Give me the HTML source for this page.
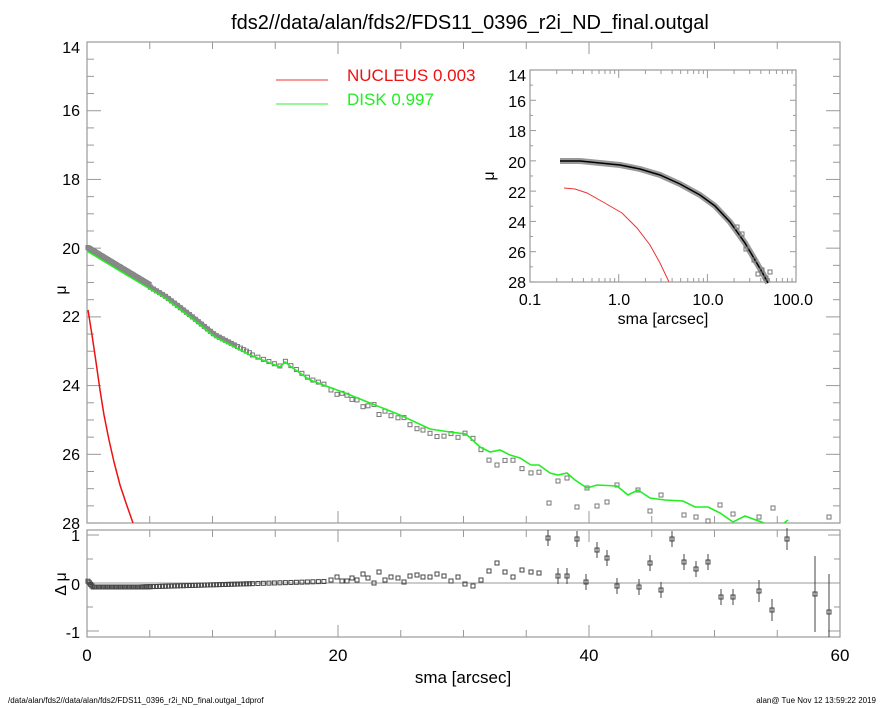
<!DOCTYPE html>
<html><head><meta charset="utf-8"><style>
html,body{margin:0;padding:0;background:#fff;}
svg{display:block;font-family:"Liberation Sans",sans-serif;}
</style></head><body>
<svg id="s" width="885" height="708" viewBox="0 0 885 708" xmlns="http://www.w3.org/2000/svg">
<rect width="885" height="708" fill="#fff"/>
<text x="470" y="29" font-size="20" text-anchor="middle">fds2//data/alan/fds2/FDS11_0396_r2i_ND_final.outgal</text>
<rect x="87" y="42" width="753" height="481" fill="none" stroke="#999" stroke-width="1.2"/>
<rect x="87" y="530" width="753" height="107" fill="none" stroke="#999" stroke-width="1.2"/>
<g id="ticks" stroke="#999" stroke-width="1"></g>
<g font-size="16" text-anchor="end">
<text x="80" y="53">14</text><text x="80" y="116">16</text><text x="80" y="185">18</text>
<text x="80" y="254">20</text><text x="80" y="322">22</text><text x="80" y="391">24</text>
<text x="80" y="460">26</text><text x="80" y="529">28</text>
<text x="80" y="541">1</text><text x="80" y="590">0</text><text x="80" y="638">-1</text>
</g>
<text x="66" y="290" font-size="16" transform="rotate(-90 66 290)" text-anchor="middle">μ</text>
<text x="66" y="584" font-size="16" transform="rotate(-90 66 584)" text-anchor="middle">Δ μ</text>
<g font-size="17" text-anchor="middle">
<text x="87" y="661">0</text><text x="338" y="661">20</text><text x="589" y="661">40</text><text x="840" y="661">60</text>
</g>
<text x="463" y="683" font-size="17" text-anchor="middle">sma [arcsec]</text>
<text x="8" y="703" font-size="8">/data/alan/fds2//data/alan/fds2/FDS11_0396_r2i_ND_final.outgal_1dprof</text>
<text x="876" y="703" font-size="8" text-anchor="end">alan@  Tue Nov 12 13:59:22 2019</text>
<line x1="276" y1="80" x2="328" y2="80" stroke="#e33" stroke-width="1"/>
<text x="347" y="81" font-size="17" fill="#e11">NUCLEUS  0.003</text>
<line x1="276" y1="104" x2="328" y2="104" stroke="#3e3" stroke-width="1"/>
<text x="347" y="105" font-size="17" fill="#2e2">DISK  0.997</text>
<g id="data"></g>
<line x1="87" y1="583" x2="840" y2="583" stroke="#999" stroke-width="1"/>
<g id="res"></g>
<polyline fill="none" stroke="#e11" stroke-width="1.5" points="88,310 92,335 96,362 100,390 104,415 109,440 114,462 120,485 126,503 133,523"/>
<rect x="530" y="70" width="266" height="212" fill="#fff" stroke="#999" stroke-width="1.2"/>
<g id="iticks" stroke="#999" stroke-width="1"></g>
<g font-size="16" text-anchor="end">
<text x="526" y="81">14</text><text x="526" y="107">16</text><text x="526" y="137">18</text>
<text x="526" y="168">20</text><text x="526" y="198">22</text><text x="526" y="228">24</text>
<text x="526" y="258">26</text><text x="526" y="288">28</text>
</g>
<text x="494" y="176" font-size="16" transform="rotate(-90 494 176)" text-anchor="middle">μ</text>
<g font-size="16" text-anchor="middle">
<text x="530" y="305">0.1</text><text x="619" y="305">1.0</text><text x="708" y="305">10.0</text><text x="793" y="305">100.0</text>
</g>
<text x="663" y="324" font-size="16" text-anchor="middle">sma [arcsec]</text>
<polyline fill="none" stroke="#e33" stroke-width="1" points="564,188 575,189 587,193 603,202 622,213 637,228 650,245 660,263 669,282"/>
<polyline fill="none" stroke="#999" stroke-width="6" points="560,161 580,161 600,163 620,165 640,169 660,175 680,184 700,195 715,206 730,222 745,243 755,260 762,272 768,283"/>
<polyline fill="none" stroke="#000" stroke-width="1.5" points="560,161 580,161 600,163 620,165 640,169 660,175 680,184 700,195 715,206 730,222 745,243 755,260 762,272 768,283"/>
<g fill="none" stroke="#777" stroke-width="1">
<rect x="752" y="258" width="4" height="4"/><rect x="744" y="247" width="4" height="4"/><rect x="760" y="268" width="4" height="4"/><rect x="756" y="272" width="4" height="4"/><rect x="764" y="276" width="4" height="4"/><rect x="768" y="270" width="4" height="4"/><rect x="740" y="232" width="4" height="4"/><rect x="735" y="225" width="4" height="4"/>
</g>
</svg>
<script>
(function(){
var NS="http://www.w3.org/2000/svg";
function el(p,t,a){var e=document.createElementNS(NS,t);for(var k in a)e.setAttribute(k,a[k]);p.appendChild(e);return e;}
var T=document.getElementById('ticks');
for(var i=0;i<=12;i++){var x=87+i*62.75;var L=(i%4==0)?12:7;
 el(T,'line',{x1:x,y1:523,x2:x,y2:523-L});el(T,'line',{x1:x,y1:42,x2:x,y2:42+L});
 el(T,'line',{x1:x,y1:637,x2:x,y2:637-L});el(T,'line',{x1:x,y1:530,x2:x,y2:530+L});}
for(var m=14;m<=28;m+=0.5){var y=42+(m-14)*34.36;var L=(m%2==0)?14:7;
 el(T,'line',{x1:87,y1:y,x2:87+L,y2:y});el(T,'line',{x1:840,y1:y,x2:840-L,y2:y});}
for(var d=-1;d<=1;d+=0.5){var y=583-d*48;var L=(d%1==0)?12:6;
 el(T,'line',{x1:87,y1:y,x2:87+L,y2:y});el(T,'line',{x1:840,y1:y,x2:840-L,y2:y});}
var IT=document.getElementById('iticks');
for(var m=14;m<=28;m+=1){var y=70+(m-14)*15.14;var L=(m%2==0)?6:3;
 el(IT,'line',{x1:530,y1:y,x2:530+L,y2:y});el(IT,'line',{x1:796,y1:y,x2:796-L,y2:y});}
for(var dec=0;dec<3;dec++)for(var k=1;k<10;k++){var x=530+88.7*(dec+Math.log10(k));var L=k==1?8:4;
 el(IT,'line',{x1:x,y1:282,x2:x,y2:282-L});el(IT,'line',{x1:x,y1:70,x2:x,y2:70+L});}
var G=document.getElementById('data');
var gp=[[87,251],[110,265],[130,277],[165,298],[190,317],[215,337],[250,355],[280,367],[285,362],[290,366],[310,380],[345,393],[375,405],[400,415],[430,429],[450,432],[466,434],[480,447],[490,452],[500,450],[510,455],[520,458],[531,465],[539,465],[550,473],[558,475],[567,473],[575,480],[587,488],[597,485],[617,486],[628,495],[638,490],[650,498],[665,500],[683,501],[695,507],[708,507],[720,513],[733,522],[745,516],[764,523]];
function gy(x){for(var i=1;i<gp.length;i++){if(x<=gp[i][0]){var a=gp[i-1],b=gp[i];return a[1]+(b[1]-a[1])*(x-a[0])/(b[0]-a[0]);}}return 523;}
var res=[[331,580],[337,577],[342,581],[347,581],[352,578],[357,580],[363,574],[368,578],[374,583],[379,572],[385,580],[391,577],[398,578],[404,582],[410,576],[417,575],[423,577],[430,577],[437,574],[444,576],[451,581],[458,577],[465,584],[473,586],[481,580],[489,571],[497,563],[505,572],[513,577],[522,570],[531,572],[539,573],[548,538],[558,576],[567,576],[577,539],[586,582],[597,550],[607,558],[617,586],[639,587],[650,563],[661,590],[672,539],[684,562],[696,569],[708,562],[721,597],[733,597],[759,591],[772,610],[787,539],[815,594],[829,612]];
function rf(x){ if(x<92) return 580+(x-87)*1.2; if(x<140) return 587; return 587-(x-140)*0.03; }
var sq=el(G,'g',{fill:'none',stroke:'#777','stroke-width':1});
var rs=el(document.getElementById('res'),'g',{fill:'none',stroke:'#444','stroke-width':1});
var band=[];
for(var x=87;x<=240;x+=5){band.push(x+','+(gy(x)-(x<150?4:2)));}
el(G,'polyline',{fill:'none',stroke:'#888','stroke-width':5,points:band.join(' ')});
for(var x=88;x<328;x+=(x<150?1.3:(x<250?3:5.5))){
 var ry=rf(x);el(rs,'rect',{x:x-2,y:ry-2,width:4,height:4});
 var y=gy(x)-(x<150?4:(x<250?2:1));el(sq,'rect',{x:x-2,y:y-2,width:4,height:4});}
var far=[[549,503],[558,481],[567,478],[577,507],[587,488],[597,506],[607,502],[617,485],[638,490],[650,511],[661,495],[684,515],[696,517],[708,521],[720,505],[733,514],[759,517],[773,508],[829,517]];
res.forEach(function(p){
 var big=p[0]>=540;
 var e=big?(p[0]>=810?38:(p[0]>=755?11:8)):0;
 if(e)el(rs,'line',{x1:p[0],y1:p[1]-e,x2:p[0],y2:Math.min(637,p[1]+e)});
 el(rs,'rect',{x:p[0]-2,y:p[1]-2,width:4,height:4});
 if(!big){var y=gy(p[0])+(583-p[1])*0.72;el(sq,'rect',{x:p[0]-2,y:y-2,width:4,height:4});}
});
far.forEach(function(p){el(sq,'rect',{x:p[0]-2,y:p[1]-2,width:4,height:4});});
var pts=gp.map(function(p){return p.join(',');}).join(' ');
el(G,'polyline',{fill:'none',stroke:'#2e2','stroke-width':1.6,points:pts});
el(G,'line',{x1:784,y1:523,x2:788,y2:520,stroke:'#2e2','stroke-width':1.5});
})();
</script>
</body></html>
